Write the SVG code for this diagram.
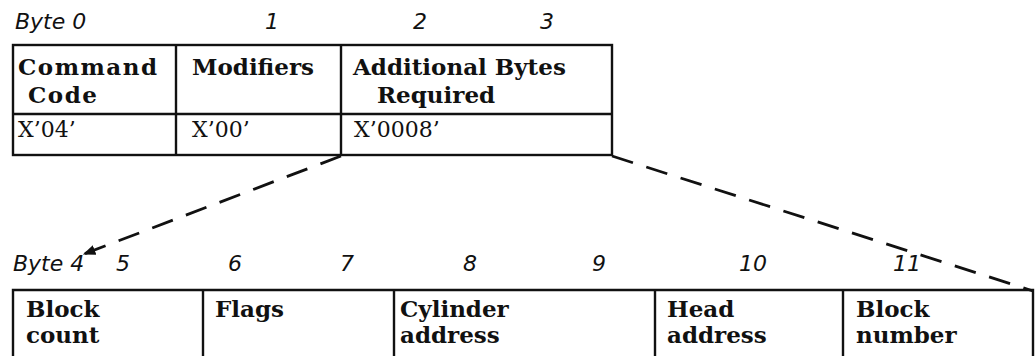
<svg xmlns="http://www.w3.org/2000/svg" width="1036" height="356" viewBox="0 0 1036 356">
<style>
.num{font-family:"DejaVu Sans","Liberation Sans",sans-serif;font-style:italic;font-size:22px;fill:#111}
.hd{font-family:"DejaVu Serif","Liberation Serif",serif;font-weight:bold;font-size:23px;fill:#111}
.val{font-family:"DejaVu Serif","Liberation Serif",serif;font-size:22px;fill:#111}
.box{fill:none;stroke:#111;stroke-width:2.4}
.dash{fill:none;stroke:#111;stroke-width:2.8;stroke-dasharray:22 14}
</style>
<defs>
<marker id="ah" viewBox="0 0 10 10" refX="9" refY="5" markerWidth="4.5" markerHeight="4.5" orient="auto" markerUnits="strokeWidth">
<path d="M0,1 L10,5 L0,9 Z" fill="#111"/>
</marker>
</defs>
<rect width="1036" height="356" fill="#fff"/>

<g id="labels-top">
<text class="num" x="15" y="29">Byte 0</text>
<text class="num" x="272" y="29" text-anchor="middle">1</text>
<text class="num" x="420" y="29" text-anchor="middle">2</text>
<text class="num" x="547" y="29" text-anchor="middle">3</text>
</g>

<g id="top-table">
<rect class="box" x="13" y="45" width="599" height="110"/>
<line class="box" x1="13" y1="114" x2="612" y2="114"/>
</g>

<g id="command-code">
<line class="box" x1="176" y1="45" x2="176" y2="155"/>
<text class="hd" x="18" y="75" textLength="139" lengthAdjust="spacing">Command</text>
<text class="hd" x="28" y="103" textLength="69" lengthAdjust="spacing">Code</text>
<text class="val" x="18" y="137">X’04’</text>
</g>

<g id="modifiers">
<line class="box" x1="341" y1="45" x2="341" y2="155"/>
<text class="hd" x="192" y="75">Modifiers</text>
<text class="val" x="192" y="137">X’00’</text>
</g>

<g id="additional-bytes">
<text class="hd" x="353" y="75">Additional Bytes</text>
<text class="hd" x="377" y="103">Required</text>
<text class="val" x="354" y="137">X’0008’</text>
</g>

<g id="connectors">
<line class="dash" x1="341" y1="156" x2="84" y2="254" marker-end="url(#ah)"/>
<line class="dash" x1="612" y1="156" x2="1033" y2="291"/>
</g>

<g id="labels-bottom">
<text class="num" x="13" y="271">Byte 4</text>
<text class="num" x="123" y="271" text-anchor="middle">5</text>
<text class="num" x="235" y="271" text-anchor="middle">6</text>
<text class="num" x="347" y="271" text-anchor="middle">7</text>
<text class="num" x="470" y="271" text-anchor="middle">8</text>
<text class="num" x="599" y="271" text-anchor="middle">9</text>
<text class="num" x="753" y="271" text-anchor="middle">10</text>
<text class="num" x="907" y="271" text-anchor="middle">11</text>
</g>

<g id="bottom-table">
<path class="box" d="M13,356 V290 H1033 V356"/>
</g>

<g id="block-count">
<text class="hd" x="26" y="317">Block</text>
<text class="hd" x="26" y="343">count</text>
</g>

<g id="flags">
<line class="box" x1="203" y1="290" x2="203" y2="356"/>
<text class="hd" x="215" y="317">Flags</text>
</g>

<g id="cylinder-address">
<line class="box" x1="394" y1="290" x2="394" y2="356"/>
<text class="hd" x="400" y="317">Cylinder</text>
<text class="hd" x="400" y="343">address</text>
</g>

<g id="head-address">
<line class="box" x1="655" y1="290" x2="655" y2="356"/>
<text class="hd" x="667" y="317">Head</text>
<text class="hd" x="667" y="343">address</text>
</g>

<g id="block-number">
<line class="box" x1="843" y1="290" x2="843" y2="356"/>
<text class="hd" x="856" y="317">Block</text>
<text class="hd" x="856" y="343">number</text>
</g>
</svg>
